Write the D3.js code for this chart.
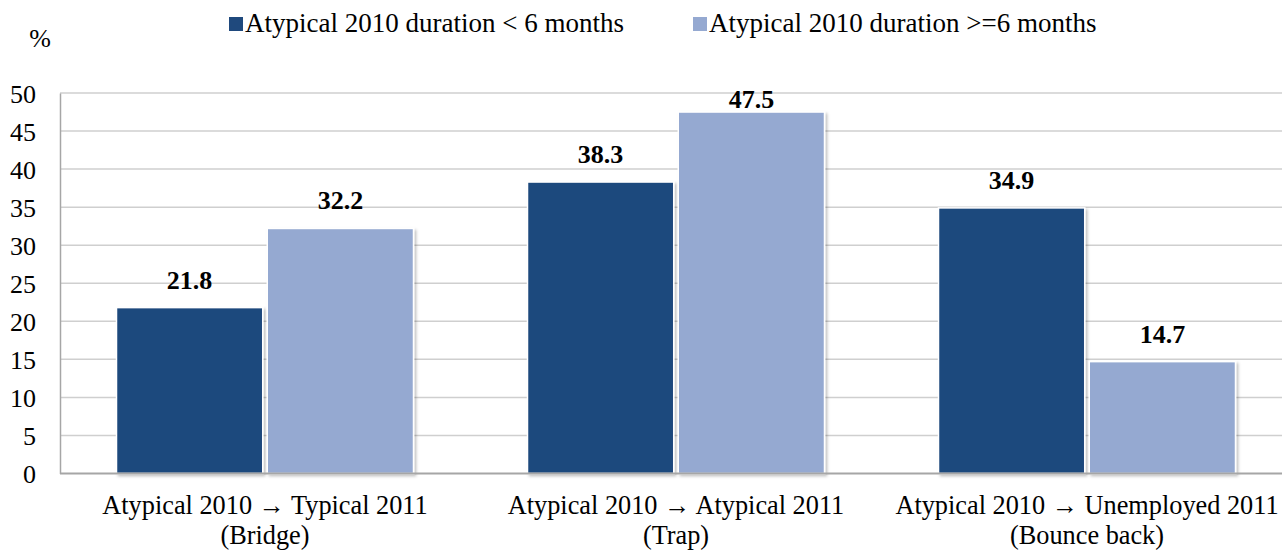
<!DOCTYPE html>
<html><head><meta charset="utf-8">
<script src="https://cdn.jsdelivr.net/npm/d3@7"></script>
<style>body{margin:0;background:#fff}svg{display:block}svg text{font-family:'Liberation Serif',serif !important}</style>
</head><body><svg id="c" width="1282" height="550"></svg>
<script>
const categories = [["Atypical 2010 \u2192 Typical 2011","(Bridge)"],["Atypical 2010 \u2192 Atypical  2011","(Trap)"],["Atypical 2010 \u2192 Unemployed 2011","(Bounce back)"]];
const seriesNames = ["Atypical 2010 duration < 6 months","Atypical 2010 duration >=6 months"];
const shortDuration = [21.8, 38.3, 34.9];
const longDuration = [32.2, 47.5, 14.7];
const yTicks = [0,5,10,15,20,25,30,35,40,45,50];
const colors = ["#1f497d","#95a9d1"];

const svg = d3.select("#c");
const x = d3.scaleBand().domain([0,1,2]).range([59.5,1292.5]).paddingInner(0).paddingOuter(0);
const y = d3.scaleLinear().domain([0,50]).range([473.5,93]);
const inner = d3.scaleBand().domain([0,1]).range([0,297]).paddingInner(0.03);
const off = (x.bandwidth()-297)/2;

svg.append("g").selectAll("line").data(yTicks.filter(d=>d>0)).join("line")
  .attr("x1",60).attr("x2",1282).attr("y1",d=>y(d)).attr("y2",d=>y(d))
  .attr("stroke","#cfcfcf").attr("stroke-width",1.5);

const ya = svg.append("g").attr("transform","translate(60,0)").call(d3.axisLeft(y).tickValues(yTicks).tickSize(0).tickPadding(24));
ya.attr("font-family",null);
ya.select(".domain").attr("stroke","#a6a6a6").attr("stroke-width",1.5);
ya.selectAll("text").attr("font-size",26).attr("fill","#000").attr("dy","0.35em");

const series = [shortDuration, longDuration];
const defs = svg.append("defs");
const f = defs.append("filter").attr("id","sh").attr("x","-10%").attr("y","-10%").attr("width","130%").attr("height","130%");
f.append("feDropShadow").attr("dx",2).attr("dy",2).attr("stdDeviation",1.5).attr("flood-color","#000").attr("flood-opacity",0.25);

series.forEach((vals,s)=>{
  const g = svg.append("g");
  g.selectAll("rect").data(vals).join("rect")
    .attr("x",(d,i)=>x(i)+off+inner(s)).attr("width",inner.bandwidth())
    .attr("y",d=>y(d)).attr("height",d=>y(0)-y(d))
    .attr("fill",colors[s]).attr("stroke","#fff").attr("stroke-width",1.5).attr("filter","url(#sh)");
  g.selectAll("text").data(vals).join("text")
    .attr("x",(d,i)=>x(i)+off+inner(s)+inner.bandwidth()/2).attr("y",d=>Math.max(y(d)-19, 108))
    .attr("text-anchor","middle").attr("font-size",26).attr("font-weight","bold").text(d=>d.toFixed(1));
});

svg.append("line").attr("x1",60).attr("x2",1282).attr("y1",y(0)).attr("y2",y(0)).attr("stroke","#a6a6a6").attr("stroke-width",2);

const xl = svg.append("g").selectAll("text").data(categories).join("text")
  .attr("text-anchor","middle").attr("font-size",26.3).attr("x",(d,i)=>x(i)+x.bandwidth()/2);
xl.append("tspan").attr("x",(d,i)=>x(i)+x.bandwidth()/2).attr("y",514).text(d=>d[0]);
xl.append("tspan").attr("x",(d,i)=>x(i)+x.bandwidth()/2).attr("y",544).text(d=>d[1]);

svg.append("text").attr("x",40).attr("y",47).attr("text-anchor","middle").attr("font-size",26).text("%");

const legX = [229, 693];
seriesNames.forEach((n,i)=>{
  svg.append("rect").attr("x",legX[i]).attr("y",17).attr("width",14).attr("height",14).attr("fill",colors[i]);
  svg.append("text").attr("x",legX[i]+16).attr("y",32).attr("font-size",27).text(n);
});
</script></body></html>
